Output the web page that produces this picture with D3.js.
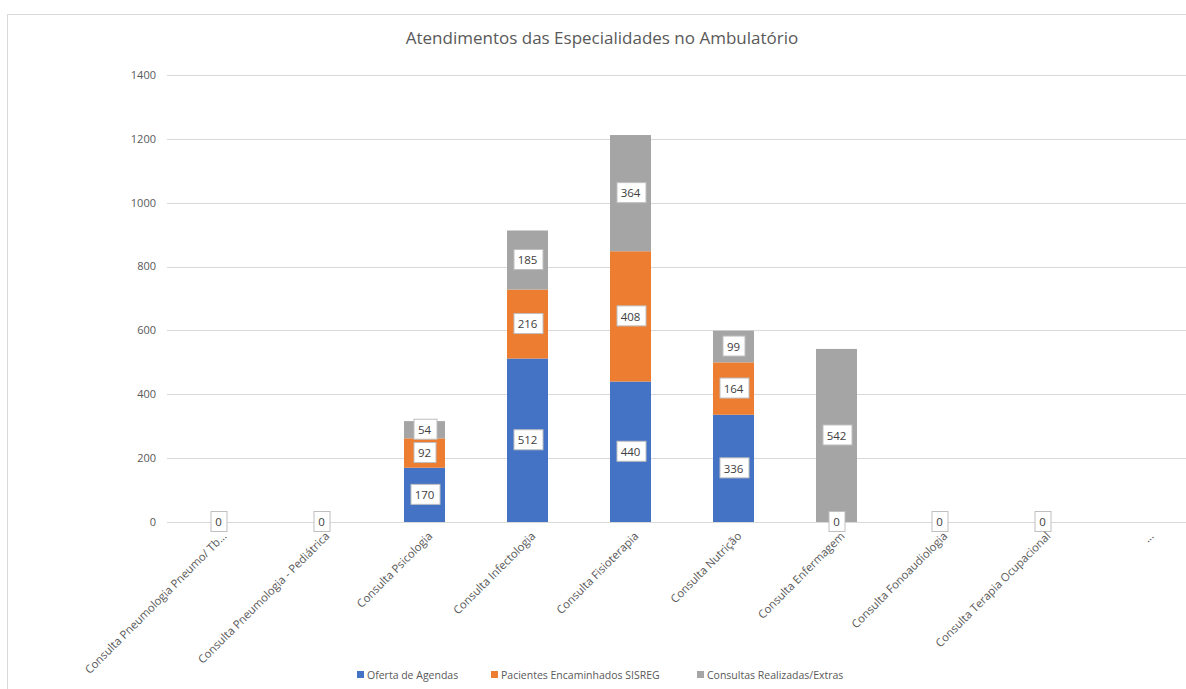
<!DOCTYPE html>
<html>
<head>
<meta charset="utf-8">
<script src="https://cdn.jsdelivr.net/npm/d3@7"></script>
<style>
  body { margin: 0; background: #fff; }
  text { font-family: "Open Sans", "Noto Sans", sans-serif; }
</style>
</head>
<body>
<div id="chart"></div>
<script>
// chart data
var categories = [
  "Consulta Pneumologia Pneumo/ Tb...",
  "Consulta Pneumologia - Pediátrica",
  "Consulta Psicologia",
  "Consulta  Infectologia",
  "Consulta Fisioterapia",
  "Consulta Nutrição",
  "Consulta Enfermagem",
  "Consulta Fonoaudiologia",
  "Consulta Terapia Ocupacional",
  "..."
];
var seriesNames = ["Oferta de Agendas", "Pacientes Encaminhados SISREG", "Consultas Realizadas/Extras"];
var oferta     = [null, null, 170, 512, 440, 336, 0,    null, null, null];
var pacientes  = [null, null, 92,  216, 408, 164, null, null, null, null];
var consultas  = [0,    0,    54,  185, 364, 99,  542,  0,    0,    null];
var yTicks = [0, 200, 400, 600, 800, 1000, 1200, 1400];
var colors = ["#4472C4", "#ED7D31", "#A5A5A5"];

var width = 1186, height = 689;
var margin = { left: 167, top: 75, bottom: 167 };
var plotW = 1030;

var svg = d3.select("#chart").append("svg")
  .attr("width", width)
  .attr("height", height);

// chart border
svg.append("rect")
  .attr("x", 7.5).attr("y", 14.5)
  .attr("width", 1200).attr("height", 700)
  .attr("fill", "#fff")
  .attr("stroke", "#d9d9d9");

var x = d3.scaleBand()
  .domain(categories)
  .range([margin.left, margin.left + plotW])
  .paddingInner(0.6)
  .paddingOuter(0.3);

var y = d3.scaleLinear()
  .domain([0, 1400])
  .range([522, 75]);

// gridlines
svg.selectAll(".grid")
  .data(yTicks)
  .enter().append("line")
    .attr("class", "grid")
    .attr("x1", margin.left)
    .attr("x2", margin.left + plotW)
    .attr("y1", function (d) { return Math.round(y(d)) + 0.5; })
    .attr("y2", function (d) { return Math.round(y(d)) + 0.5; })
    .attr("stroke", "#d9d9d9")
    .attr("stroke-width", 1);

// y labels
svg.selectAll(".ylab")
  .data(yTicks)
  .enter().append("text")
    .attr("class", "ylab")
    .attr("x", 156)
    .attr("y", function (d) { return y(d); })
    .attr("dy", "0.35em")
    .attr("text-anchor", "end")
    .attr("font-size", "11px")
    .attr("fill", "#595959")
    .text(function (d) { return d; });

// stack data
var rows = categories.map(function (c, i) {
  return { cat: c, vals: [oferta[i], pacientes[i], consultas[i]] };
});

var segments = [];
rows.forEach(function (r) {
  var base = 0;
  r.vals.forEach(function (v, s) {
    if (v === null) return;
    segments.push({ cat: r.cat, s: s, y0: base, y1: base + v, v: v });
    base += v;
  });
});

var barW = 41;

svg.selectAll(".bar")
  .data(segments.filter(function (d) { return d.v > 0; }))
  .enter().append("rect")
    .attr("class", "bar")
    .attr("x", function (d) { return x(d.cat) + x.bandwidth() / 2 - barW / 2; })
    .attr("width", barW)
    .attr("y", function (d) { return y(d.y1); })
    .attr("height", function (d) { return y(d.y0) - y(d.y1); })
    .attr("fill", function (d) { return colors[d.s]; });

// data labels
var labels = svg.selectAll(".dlab")
  .data(segments)
  .enter().append("g")
    .attr("class", "dlab")
    .attr("transform", function (d) {
      var cx = x(d.cat) + x.bandwidth() / 2;
      return "translate(" + cx + "," + y((d.y0 + d.y1) / 2) + ")";
    });

labels.append("text")
  .attr("text-anchor", "middle")
  .attr("dy", "0.36em")
  .attr("font-size", "11.5px")
  .attr("fill", "#404040")
  .text(function (d) { return d.v; });

labels.each(function () {
  var g = d3.select(this);
  var bb = g.select("text").node().getBBox();
  g.insert("rect", "text")
    .attr("x", Math.round(bb.x - 4.5) + 0.5)
    .attr("y", -10.5)
    .attr("width", Math.round(bb.width + 9))
    .attr("height", 20)
    .attr("fill", "#fff")
    .attr("stroke", "#bfbfbf");
});

// category labels
svg.selectAll(".xlab")
  .data(categories)
  .enter().append("text")
    .attr("class", "xlab")
    .attr("transform", function (d) {
      return "translate(" + (x(d) + x.bandwidth() / 2 + 6) + ",534) rotate(-45)";
    })
    .attr("text-anchor", "end")
    .attr("dy", "0.35em")
    .attr("font-size", "11.3px")
    .attr("fill", "#595959")
    .text(function (d) { return d; });

// title
svg.append("text")
  .attr("x", 602)
  .attr("y", 38)
  .attr("dy", "0.35em")
  .attr("text-anchor", "middle")
  .attr("font-size", "17px")
  .attr("fill", "#595959")
  .text("Atendimentos das Especialidades no Ambulatório");

// legend
var legendX = [357, 491, 697];
var leg = svg.selectAll(".leg")
  .data(seriesNames)
  .enter().append("g")
    .attr("class", "leg")
    .attr("transform", function (d, i) { return "translate(" + legendX[i] + ",675)"; });

leg.append("rect")
  .attr("x", 0).attr("y", -4)
  .attr("width", 7).attr("height", 7)
  .attr("fill", function (d, i) { return colors[i]; });

leg.append("text")
  .attr("x", 10)
  .attr("dy", "0.35em")
  .attr("font-size", "10.5px")
  .attr("fill", "#595959")
  .text(function (d) { return d; });
</script>
</body>
</html>
